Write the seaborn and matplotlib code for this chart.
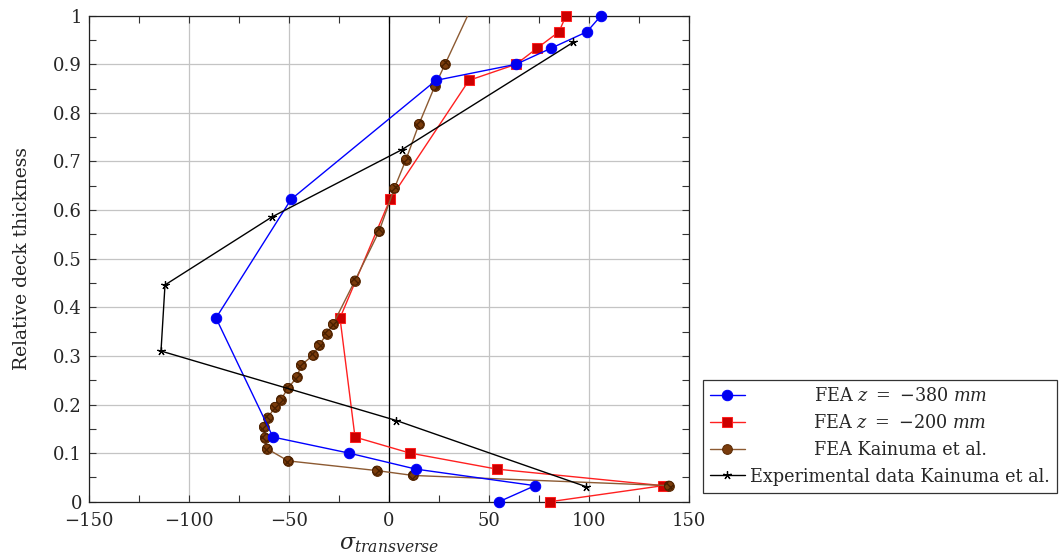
import matplotlib
matplotlib.use("Agg")
import matplotlib.pyplot as plt
import seaborn as sns
import pandas as pd
from matplotlib.ticker import MultipleLocator

# ---------------- data ----------------
blue_x = [55, 73, 13.5, -20, -58, -86.5, -49, 23.5, 63.5, 81, 99, 106]
blue_y = [0.0, 0.033, 0.067, 0.1, 0.133, 0.378, 0.622, 0.867, 0.9, 0.933, 0.967, 1.0]

red_x = [80.5, 137, 54, 10.5, -17, -24.5, 0.5, 40, 63.5, 74, 85, 88.5]
red_y = [0.0, 0.033, 0.067, 0.1, 0.133, 0.378, 0.622, 0.867, 0.9, 0.933, 0.967, 1.0]

brown_x = [140, 12, -6, -50.5, -61, -62, -62.5, -60.5, -57, -54, -50.5, -46, -44,
           -38, -35, -31, -28, -17, -5, 2.7, 8.5, 15, 23, 28, 45]
brown_y = [0.033, 0.054, 0.064, 0.084, 0.109, 0.132, 0.154, 0.173, 0.195, 0.21,
           0.234, 0.256, 0.281, 0.301, 0.322, 0.346, 0.365, 0.455, 0.556, 0.645,
           0.704, 0.777, 0.856, 0.9, 1.05]

exp_x = [98.5, 3.7, -114, -112, -58.5, 6.3, 92]
exp_y = [0.031, 0.167, 0.31, 0.446, 0.586, 0.724, 0.945]

labels = [r"FEA $z\ =\ {-}380\ mm$", r"FEA $z\ =\ {-}200\ mm$",
          "FEA Kainuma et al.", "Experimental data Kainuma et al."]
x_ticks = [-150, -100, -50, 0, 50, 100, 150]
y_ticks = [0, 0.1, 0.2, 0.3, 0.4, 0.5, 0.6, 0.7, 0.8, 0.9, 1]
y_tick_labels = ["0", "0.1", "0.2", "0.3", "0.4", "0.5", "0.6", "0.7", "0.8", "0.9", "1"]

# ---------------- style ----------------
sns.set_style("ticks")
plt.rcParams["font.family"] = ["DejaVu Serif"]
plt.rcParams["mathtext.fontset"] = "dejavuserif"

fig = plt.figure(figsize=(10.62, 5.59), dpi=100)
ax = fig.add_axes([89 / 1062, 1 - 501.7 / 559, 600 / 1062, 486 / 559])

def df(x, y):
    return pd.DataFrame({"x": x, "y": y})

brown_line = "#8c5a32"
sns.lineplot(data=df(blue_x, blue_y), x="x", y="y", sort=False, estimator=None,
             color="#0000ff", lw=1.0, marker="o", markersize=7.5,
             markerfacecolor="#0000ee", markeredgecolor="#0000ff",
             clip_on=False, zorder=4, ax=ax, label=labels[0])
sns.lineplot(data=df(red_x, red_y), x="x", y="y", sort=False, estimator=None,
             color="#ff2020", lw=1.0, marker="s", markersize=7,
             markerfacecolor="#cc0000", markeredgecolor="#ff2020",
             clip_on=False, zorder=3, ax=ax, label=labels[1])
sns.lineplot(data=df(brown_x, brown_y), x="x", y="y", sort=False, estimator=None,
             color=brown_line, lw=1.0, marker="o", markersize=7,
             markerfacecolor="#7a3c0c", markeredgecolor="#5a2a05",
             zorder=3.5, ax=ax, label=labels[2])
sns.scatterplot(data=df(brown_x[:-1], brown_y[:-1]), x="x", y="y", s=44, marker="o",
                color="#7a3c0c", edgecolor="#4a2000", hatch="xxxx",
                linewidth=0.6, zorder=3.6, ax=ax, legend=False)
sns.lineplot(data=df(exp_x, exp_y), x="x", y="y", sort=False, estimator=None,
             color="black", lw=1.0, marker=(5, 2, 0), markersize=6,
             markeredgecolor="black", markeredgewidth=0.9,
             zorder=5, ax=ax, label=labels[3])

ax.axvline(0, color="black", lw=0.9, zorder=2)

ax.set_xlim(-150, 150)
ax.set_ylim(0, 1)
ax.set_xticks(x_ticks)
ax.set_yticks(y_ticks)
ax.set_yticklabels(y_tick_labels)
ax.xaxis.set_minor_locator(MultipleLocator(25))
ax.yaxis.set_minor_locator(MultipleLocator(0.05))
ax.tick_params(which="both", direction="in", top=True, right=True,
               length=5, width=0.8, color="#333333", labelsize=13)
ax.tick_params(axis="x", which="major", pad=7.5)
ax.tick_params(axis="y", which="major", pad=5)
ax.grid(True, which="major", color="#c4c4c4", lw=0.9, zorder=0)
ax.set_axisbelow(True)
for sp in ax.spines.values():
    sp.set_linewidth(0.9)
    sp.set_color("#222222")

ax.set_xlabel(r"$\sigma_{transverse}$", fontsize=16, labelpad=2)
ax.set_ylabel("Relative deck thickness", fontsize=13.5, labelpad=16)

handles, labs = ax.get_legend_handles_labels()
if ax.get_legend():
    ax.get_legend().remove()
leg = fig.legend(handles, labs, loc="upper left",
                 bbox_to_anchor=(702.7 / 1062, 1 - 380 / 559),
                 borderaxespad=0, fancybox=False, framealpha=1,
                 edgecolor="#333333", fontsize=12.7, handlelength=2.0,
                 handletextpad=0.3, labelspacing=0.5, borderpad=0.4)
leg.get_frame().set_linewidth(0.9)

# center legend texts like the original
fig.canvas.draw()
r = fig.canvas.get_renderer()
texts = leg.get_texts()
widths = [t.get_window_extent(r).width for t in texts]
mw = max(widths)
for t, w in zip(texts, widths):
    t.set_position(((mw - w) / 2, 0))

fig.savefig("out.png", dpi=100)
